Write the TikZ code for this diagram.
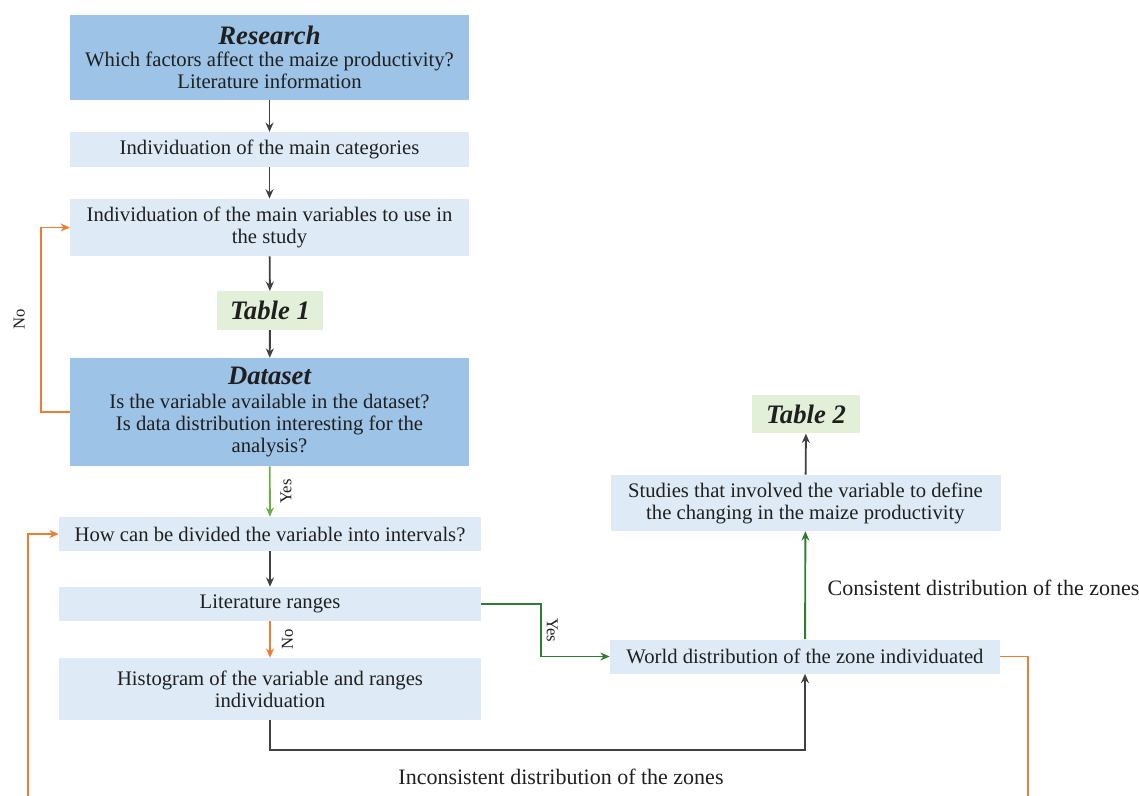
\documentclass[tikz,border=0pt]{standalone}
\usepackage{fontspec}
\setmainfont{Liberation Serif}
\usepackage{tikz}
\usetikzlibrary{arrows.meta, positioning, calc}

\definecolor{darkbox}{HTML}{9DC3E6}
\definecolor{lightbox}{HTML}{DEEBF7}
\definecolor{tabbox}{HTML}{E2F0D9}
\definecolor{loopor}{HTML}{ED7D31}
\definecolor{yesgreen}{HTML}{70AD47}
\definecolor{flowgreen}{HTML}{2E7D32}
\definecolor{flowgray}{HTML}{404040}

\begin{document}
\begin{tikzpicture}[
    x=0.75pt, y=-0.75pt,
    every node/.style={font=\fontsize{15.5}{16.5}\selectfont, text=black!88},
    mainbox/.style={rectangle, fill=darkbox, inner sep=0pt, minimum width=299pt, align=center},
    stepbox/.style={rectangle, fill=lightbox, inner sep=0pt, minimum width=299pt, align=center},
    tablebox/.style={rectangle, fill=tabbox, inner sep=0pt, minimum width=80pt, minimum height=29pt, align=center, font=\fontsize{20}{22}\selectfont\bfseries\itshape},
    lbl/.style={font=\fontsize{12.5}{14}\selectfont},
    note/.style={font=\fontsize{16.5}{18}\selectfont},
    arrow/.style={line width=1.4pt, flowgray, -{Stealth[length=7pt, width=6pt]}},
    yesarrow/.style={line width=1.4pt, yesgreen, -{Stealth[length=7pt, width=6pt]}},
    greenarrow/.style={line width=1.4pt, flowgreen, -{Stealth[length=7pt, width=6pt]}},
    noarrow/.style={line width=1.4pt, loopor, -{Stealth[length=7pt, width=6pt]}},
    noline/.style={line width=1.4pt, loopor}
]
    \useasboundingbox (0,0) rectangle (1139,796);

    % left column
    \node[mainbox, minimum height=64pt] (research) at (269.5,57.5) {{\fontsize{20}{24}\selectfont\bfseries\itshape Research}\\Which factors affect the maize productivity?\\Literature information};
    \node[stepbox, minimum height=26pt] (cat) at (269.5,149.5) {Individuation of the main categories};
    \node[stepbox, minimum height=43pt] (vars) at (269.5,227.5) {Individuation of the main variables to use in\\the study};
    \node[tablebox] (tab1) at (270,310.5) {Table 1};
    \node[mainbox, minimum height=81pt] (dataset) at (269.5,412) {{\fontsize{20}{24}\selectfont\bfseries\itshape Dataset}\\[1.5pt]Is the variable available in the dataset?\\Is data distribution interesting for the\\analysis?};
    \node[stepbox, minimum width=316.5pt, minimum height=25.5pt] (divide) at (270,534) {How can be divided the variable into intervals?};
    \node[stepbox, minimum width=316.5pt, minimum height=25.5pt] (litrange) at (270,604) {Literature ranges};
    \node[stepbox, minimum width=316.5pt, minimum height=46.5pt] (histo) at (270,689) {Histogram of the variable and ranges\\individuation};

    % right column
    \node[stepbox, minimum width=292.5pt, minimum height=25.5pt] (world) at (805,656.5) {World distribution of the zone individuated};
    \node[stepbox, minimum width=292.5pt, minimum height=42pt] (studies) at (805.5,503) {Studies that involved the variable to define\\the changing in the maize productivity};
    \node[tablebox, minimum width=81pt] (tab2) at (806,414) {Table 2};

    \coordinate (bend) at (805,750);
    \coordinate (loopL) at (28,796);
    \coordinate (loopR) at (1028,796);

    \draw[arrow] (research) -- (cat);
    \draw[arrow] (cat) -- (vars);
    \draw[arrow] (vars) -- (tab1);
    \draw[arrow] (tab1) -- (dataset);
    \draw[yesarrow] (dataset) -- node[lbl, rotate=90, anchor=north, yshift=-4pt] {Yes} (divide);
    \draw[arrow] (divide) -- (litrange);
    \draw[noarrow] (litrange) -- node[lbl, rotate=90, anchor=north, yshift=-5pt] {No} (histo);
    \draw[noarrow] (dataset.west) -- ++(-29,0) |- node[lbl, pos=0.25, rotate=90, anchor=south, yshift=8pt] {No} (vars.west);
    \draw[greenarrow] (litrange.east) -- ++(60,0) |- node[lbl, pos=0.25, rotate=-90, anchor=south] {Yes} (world.west);
    \draw[arrow] (histo.south) |- (bend) -- (world.south);
    \draw[greenarrow] (world) -- (studies);
    \draw[arrow] (studies) -- (tab2);
    \draw[noline] (world.east) -| (loopR);
    \draw[noarrow] (loopL) |- (divide.west);

    \node[note, anchor=west] (consist) at (823,588) {Consistent distribution of the zones};
    \node[note] (inconsist) at (561,777) {Inconsistent distribution of the zones};
\end{tikzpicture}
\end{document}
